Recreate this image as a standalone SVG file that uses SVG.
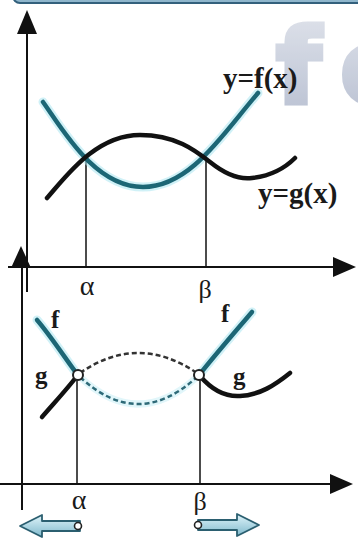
<svg xmlns="http://www.w3.org/2000/svg" width="358" height="538" viewBox="0 0 358 538">
<defs>
<style>
.ax{stroke:#111;stroke-width:2;fill:none}
.drop{stroke:#111;stroke-width:1.5;fill:none}
.tealglow{stroke:#a9e6f0;stroke-width:9;fill:none;stroke-linecap:round;opacity:0.55}
.teal{stroke:#1c6675;stroke-width:4.5;fill:none;stroke-linecap:round}
.blk{stroke:#111;stroke-width:4.5;fill:none;stroke-linecap:round}
.dash{stroke:#333;stroke-width:2.5;fill:none;stroke-dasharray:5 3}
.dasht{stroke:#2e6a78;stroke-width:2.5;fill:none;stroke-dasharray:5 3}
.ah{fill:#111}
.lbl{font-family:"Liberation Serif","Times New Roman",serif;font-weight:bold;fill:#1a1a1a}
.greek{font-family:"Liberation Serif","DejaVu Serif",serif;fill:#1a1a1a}
.pt{fill:#fff;stroke:#222;stroke-width:2}
.barr{fill:url(#bg);stroke:#2b5f70;stroke-width:1.8;stroke-linejoin:round}
.wmk{font-family:"DejaVu Sans","Liberation Sans",sans-serif;font-weight:bold;font-size:104px;fill:url(#wm);stroke:url(#wm);stroke-width:5;opacity:0.7}
</style>
<linearGradient id="bg" x1="0" y1="0" x2="0" y2="1">
<stop offset="0" stop-color="#dff4fa"/>
<stop offset="1" stop-color="#7fb9cc"/>
</linearGradient>
<linearGradient id="wm" x1="0" y1="0" x2="0" y2="1">
<stop offset="0" stop-color="#d4d9e4"/>
<stop offset="1" stop-color="#98a3bd"/>
</linearGradient>
</defs>

<g id="banner">
<rect x="13" y="-14" width="360" height="17" rx="7" fill="#8fb6cc" stroke="#33607c" stroke-width="2"/>
</g>

<g id="watermark">
<text class="wmk" x="276" y="103">f</text>
<text class="wmk" x="340" y="103">o</text>
</g>

<g id="connectors">
<line class="ax" x1="27" y1="28" x2="27" y2="292"/>
<polygon class="ah" points="27,10 17,34 37,34"/>
<line class="ax" x1="8" y1="267" x2="338" y2="267"/>
<polygon class="ah" points="356,267 333,257 333,277"/>
<line class="ax" x1="22" y1="262" x2="22" y2="510"/>
<polygon class="ah" points="21,246 11,268 31,268"/>
<line class="ax" x1="0" y1="484" x2="334" y2="484"/>
<polygon class="ah" points="353,484 330,474 330,494"/>
<line class="drop" x1="86" y1="157" x2="86" y2="267"/>
<line class="drop" x1="206" y1="157" x2="206" y2="267"/>
<line class="drop" x1="77" y1="380" x2="77" y2="484"/>
<line class="drop" x1="200" y1="380" x2="200" y2="484"/>
</g>

<g id="curve-f-top">
<path class="tealglow" d="M43,102 C63,130 95,187 143,187 C190,187 222,135 258,93"/>
<path class="teal" d="M43,102 C63,130 95,187 143,187 C190,187 222,135 258,93"/>
</g>
<g id="curve-g-top">
<path class="blk" d="M47,198 C65,178 95,135 140,135 C175,135 195,150 210,162 C225,174 238,180 252,178 C270,176 285,168 295,158"/>
</g>
<g id="label-f-top"><text class="lbl" x="223" y="88" font-size="29">y=f(x)</text></g>
<g id="label-g-top"><text class="lbl" x="258" y="203" font-size="29">y=g(x)</text></g>
<g id="alpha-top"><text class="greek" x="87" y="295" font-size="28" text-anchor="middle">α</text></g>
<g id="beta-top"><text class="greek" x="205" y="298" font-size="26" text-anchor="middle">β</text></g>

<g id="dashed-arcs">
<path class="tealglow" d="M80,377 Q138,431 197,377" style="stroke-width:7;opacity:0.35"/>
<path class="dash" d="M80,373 Q138,333 197,373"/>
<path class="dasht" d="M80,377 Q138,431 197,377"/>
</g>
<g id="curve-f-low">
<path class="tealglow" d="M37,320 C50,335 65,358 77,374"/>
<path class="teal" d="M37,320 C50,335 65,358 77,374"/>
<path class="tealglow" d="M200,374 C215,355 235,332 252,312"/>
<path class="teal" d="M200,374 C215,355 235,332 252,312"/>
</g>
<g id="curve-g-low">
<path class="blk" d="M42,417 C55,402 68,388 77,376"/>
<path class="blk" d="M200,376 C212,390 225,397 240,396 C260,395 275,385 290,373"/>
</g>
<g id="points">
<circle class="pt" cx="78" cy="375" r="5"/>
<circle class="pt" cx="199" cy="375" r="5"/>
</g>
<g id="label-f-low">
<text class="lbl" x="51" y="328" font-size="25">f</text>
<text class="lbl" x="221" y="322" font-size="25">f</text>
</g>
<g id="label-g-low">
<text class="lbl" x="35" y="384" font-size="25">g</text>
<text class="lbl" x="233" y="385" font-size="25">g</text>
</g>
<g id="alpha-low"><text class="greek" x="79" y="509" font-size="28" text-anchor="middle">α</text></g>
<g id="beta-low"><text class="greek" x="200" y="510" font-size="26" text-anchor="middle">β</text></g>

<g id="arrow-left">
<polygon class="barr" points="20,526 42,515 42,521 80,521 80,531 42,531 42,537"/>
<circle class="pt" cx="78" cy="526" r="3.5" style="stroke-width:1.6"/>
</g>
<g id="arrow-right">
<polygon class="barr" points="259,525 237,514 237,520 198,520 198,530 237,530 237,536"/>
<circle class="pt" cx="198" cy="525" r="3.5" style="stroke-width:1.6"/>
</g>
</svg>
